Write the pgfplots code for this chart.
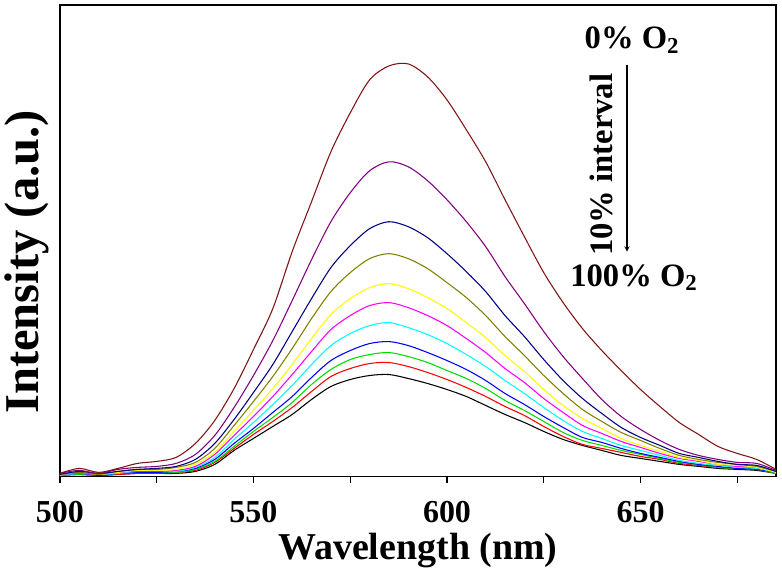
\documentclass[border=0pt]{standalone}
\usepackage{fontspec}
\setmainfont{Liberation Serif}
\usepackage{pgfplots}
\pgfplotsset{compat=1.18}
\usepackage{pgfplotstable}

\definecolor{cMaroon}{RGB}{128,20,20}
\definecolor{cPurple}{RGB}{128,0,128}
\definecolor{cNavy}{RGB}{0,0,128}
\definecolor{cOlive}{RGB}{128,128,0}
\definecolor{cYellow}{RGB}{255,255,0}
\definecolor{cMagenta}{RGB}{255,0,255}
\definecolor{cCyan}{RGB}{0,255,255}
\definecolor{cBlue}{RGB}{0,0,255}
\definecolor{cGreen}{RGB}{0,220,0}
\definecolor{cRed}{RGB}{255,0,0}
\newcommand{\tl}[1]{\mbox{\fontsize{24}{24}\selectfont\bfseries #1}}

% emission spectra, 0% (mr) ... 100% O2 (k)
\pgfplotstableread{
nm  k   r   g   b   c   m   y   o   db  p   mr
500 1   1   1   1   1   2   2   2   2   3   3
505 2   2   2   3   3   3   4   4   5   6   8
510 1   1   1   1   2   2   2   2   3   3   4
515 2   2   3   3   3   4   4   5   5   7   8
520 3   3   4   4   5   5   6   7   7   9   13
525 3   3   4   4   5   5   6   7   8   10  15
530 3   4   4   5   5   6   7   9   10  13  19
535 5   6   7   8   9   10  12  14  17  22  33
540 12  14  15  17  19  22  24  28  33  41  56
545 26  28  30  33  37  41  45  51  57  69  88
550 38  42  45  48  54  60  66  75  84  101 127
555 50  55  59  64  72  80  88  100 112 136 168
560 62  69  74  80  91  102 112 128 145 176 225
565 77  85  92  99  112 125 138 158 178 217 275
570 90  100 107 116 131 147 162 185 209 255 325
575 97  108 117 126 143 161 178 204 231 284 364
580 101 113 122 133 151 171 189 218 248 306 397
585 102 114 124 135 154 174 193 223 255 315 411
590 98  110 120 131 149 169 188 218 250 310 413
595 93  104 114 124 142 161 179 208 239 296 400
600 87  97  106 116 133 151 168 194 223 277 377
605 80  89  98  107 122 138 154 179 205 255 347
610 71  80  88  96  110 124 139 161 185 230 315
615 62  70  76  83  96  108 121 140 161 200 277
620 54  61  66  72  83  94  105 121 140 173 240
625 45  50  55  60  69  78  87  101 117 145 204
630 37  40  44  49  56  64  71  83  96  120 174
635 31  32  36  39  45  51  58  67  78  98  148
640 26  28  31  34  38  43  48  55  63  77  126
645 21  24  26  28  31  35  38  44  49  60  106
650 18  20  22  23  26  29  31  36  39  47  87
655 15  17  18  19  21  23  25  28  31  36  70
660 12  13  14  15  16  18  19  21  23  27  54
665 10  11  12  12  13  15  16  17  19  21  42
670 8   9   9   10  11  12  12  14  15  17  30
675 7   8   8   8   9   10  11  12  12  14  23
680 6   7   7   7   8   9   9   10  11  13  17
685 3   3   3   4   4   4   4   5   5   6   7
}\spectra

\begin{document}
\begin{tikzpicture}[x=1pt,y=1pt]
\path[use as bounding box] (-45,-73.5) rectangle (542.25,357.75);
\begin{axis}[scale only axis,width=537.75pt,height=354pt,
  xmin=500,xmax=685,ymin=0,ymax=472,
  xtick={500,525,...,675},
  xticklabels={\tl{500},,\tl{550},,\tl{600},,\tl{650},},
  ytick=\empty,xtick pos=bottom,tick align=outside,
  major tick length=5.25pt,
  axis line style={line width=1pt},every tick/.style={line width=1pt,black},
  xticklabel style={yshift=-10pt},
  xlabel={Wavelength (nm)},ylabel={Intensity (a.u.)},
  xlabel style={font=\fontsize{28.5}{30}\selectfont\bfseries,
    at={(axis description cs:0.5,-0.158)},anchor=center},
  ylabel style={font=\fontsize{36.5}{38}\selectfont\bfseries,
    at={(axis description cs:-0.046,0.455)},anchor=center},
  every axis plot/.append style={no markers,line width=0.8pt,smooth}]
\addplot[black]    table[x=nm,y=k]{\spectra};
\addplot[cRed]     table[x=nm,y=r]{\spectra};
\addplot[cGreen]   table[x=nm,y=g]{\spectra};
\addplot[cBlue]    table[x=nm,y=b]{\spectra};
\addplot[cCyan]    table[x=nm,y=c]{\spectra};
\addplot[cMagenta] table[x=nm,y=m]{\spectra};
\addplot[cYellow]  table[x=nm,y=y]{\spectra};
\addplot[cOlive]   table[x=nm,y=o]{\spectra};
\addplot[cNavy]    table[x=nm,y=db]{\spectra};
\addplot[cPurple]  table[x=nm,y=p]{\spectra};
\addplot[cMaroon]  table[x=nm,y=mr]{\spectra};
\node[font=\fontsize{24.5}{25}\selectfont\bfseries] at (axis cs:647.8,437) {0\% O\textsubscript{2}};
\node[font=\fontsize{24.5}{25}\selectfont\bfseries,rotate=90] at (axis cs:639.8,312) {10\% interval};
\draw[-stealth,line width=0.8pt] (axis cs:646.5,412) -- (axis cs:646.5,225);
\node[font=\fontsize{24.5}{25}\selectfont\bfseries] at (axis cs:648.3,199) {100\% O\textsubscript{2}};
\end{axis}
\end{tikzpicture}
\end{document}
